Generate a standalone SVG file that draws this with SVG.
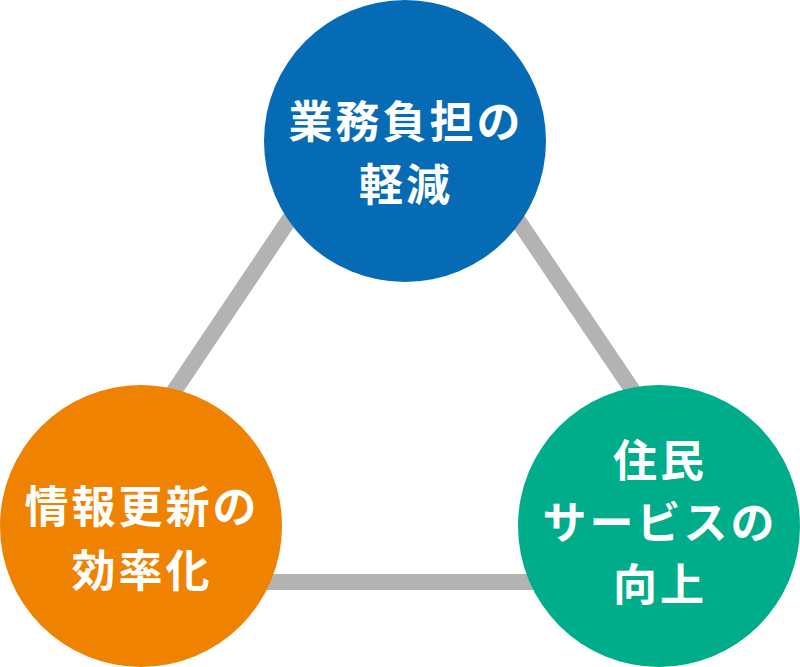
<svg xmlns="http://www.w3.org/2000/svg" width="800" height="667" viewBox="0 0 800 667">
<style>
.lbl{font-family:"Noto Sans CJK JP","Noto Sans",sans-serif;font-weight:bold;font-size:44px;fill:#ffffff;text-anchor:middle;letter-spacing:3px}
.conn{stroke:#b3b3b3;stroke-width:16;fill:none}
</style>
<rect width="800" height="667" fill="#ffffff"/>
<g id="connectors">
<line class="conn" x1="403" y1="50" x2="46" y2="582"/>
<line class="conn" x1="403" y1="50" x2="762" y2="582"/>
<line class="conn" x1="46" y1="582" x2="762" y2="582"/>
</g>
<g id="node-top">
<circle cx="405" cy="141" r="141" fill="#066bb5"/>
<text class="lbl" x="406" y="138">業務負担の</text>
<text class="lbl" x="406" y="201">軽減</text>
</g>
<g id="node-left">
<circle cx="141" cy="526" r="141" fill="#ef8200"/>
<text class="lbl" x="142" y="523">情報更新の</text>
<text class="lbl" x="142" y="587">効率化</text>
</g>
<g id="node-right">
<circle cx="659" cy="526" r="141" fill="#00ad8b"/>
<text class="lbl" x="660" y="477">住民</text>
<text class="lbl" x="660" y="539">サービスの</text>
<text class="lbl" x="660" y="601">向上</text>
</g>
</svg>
